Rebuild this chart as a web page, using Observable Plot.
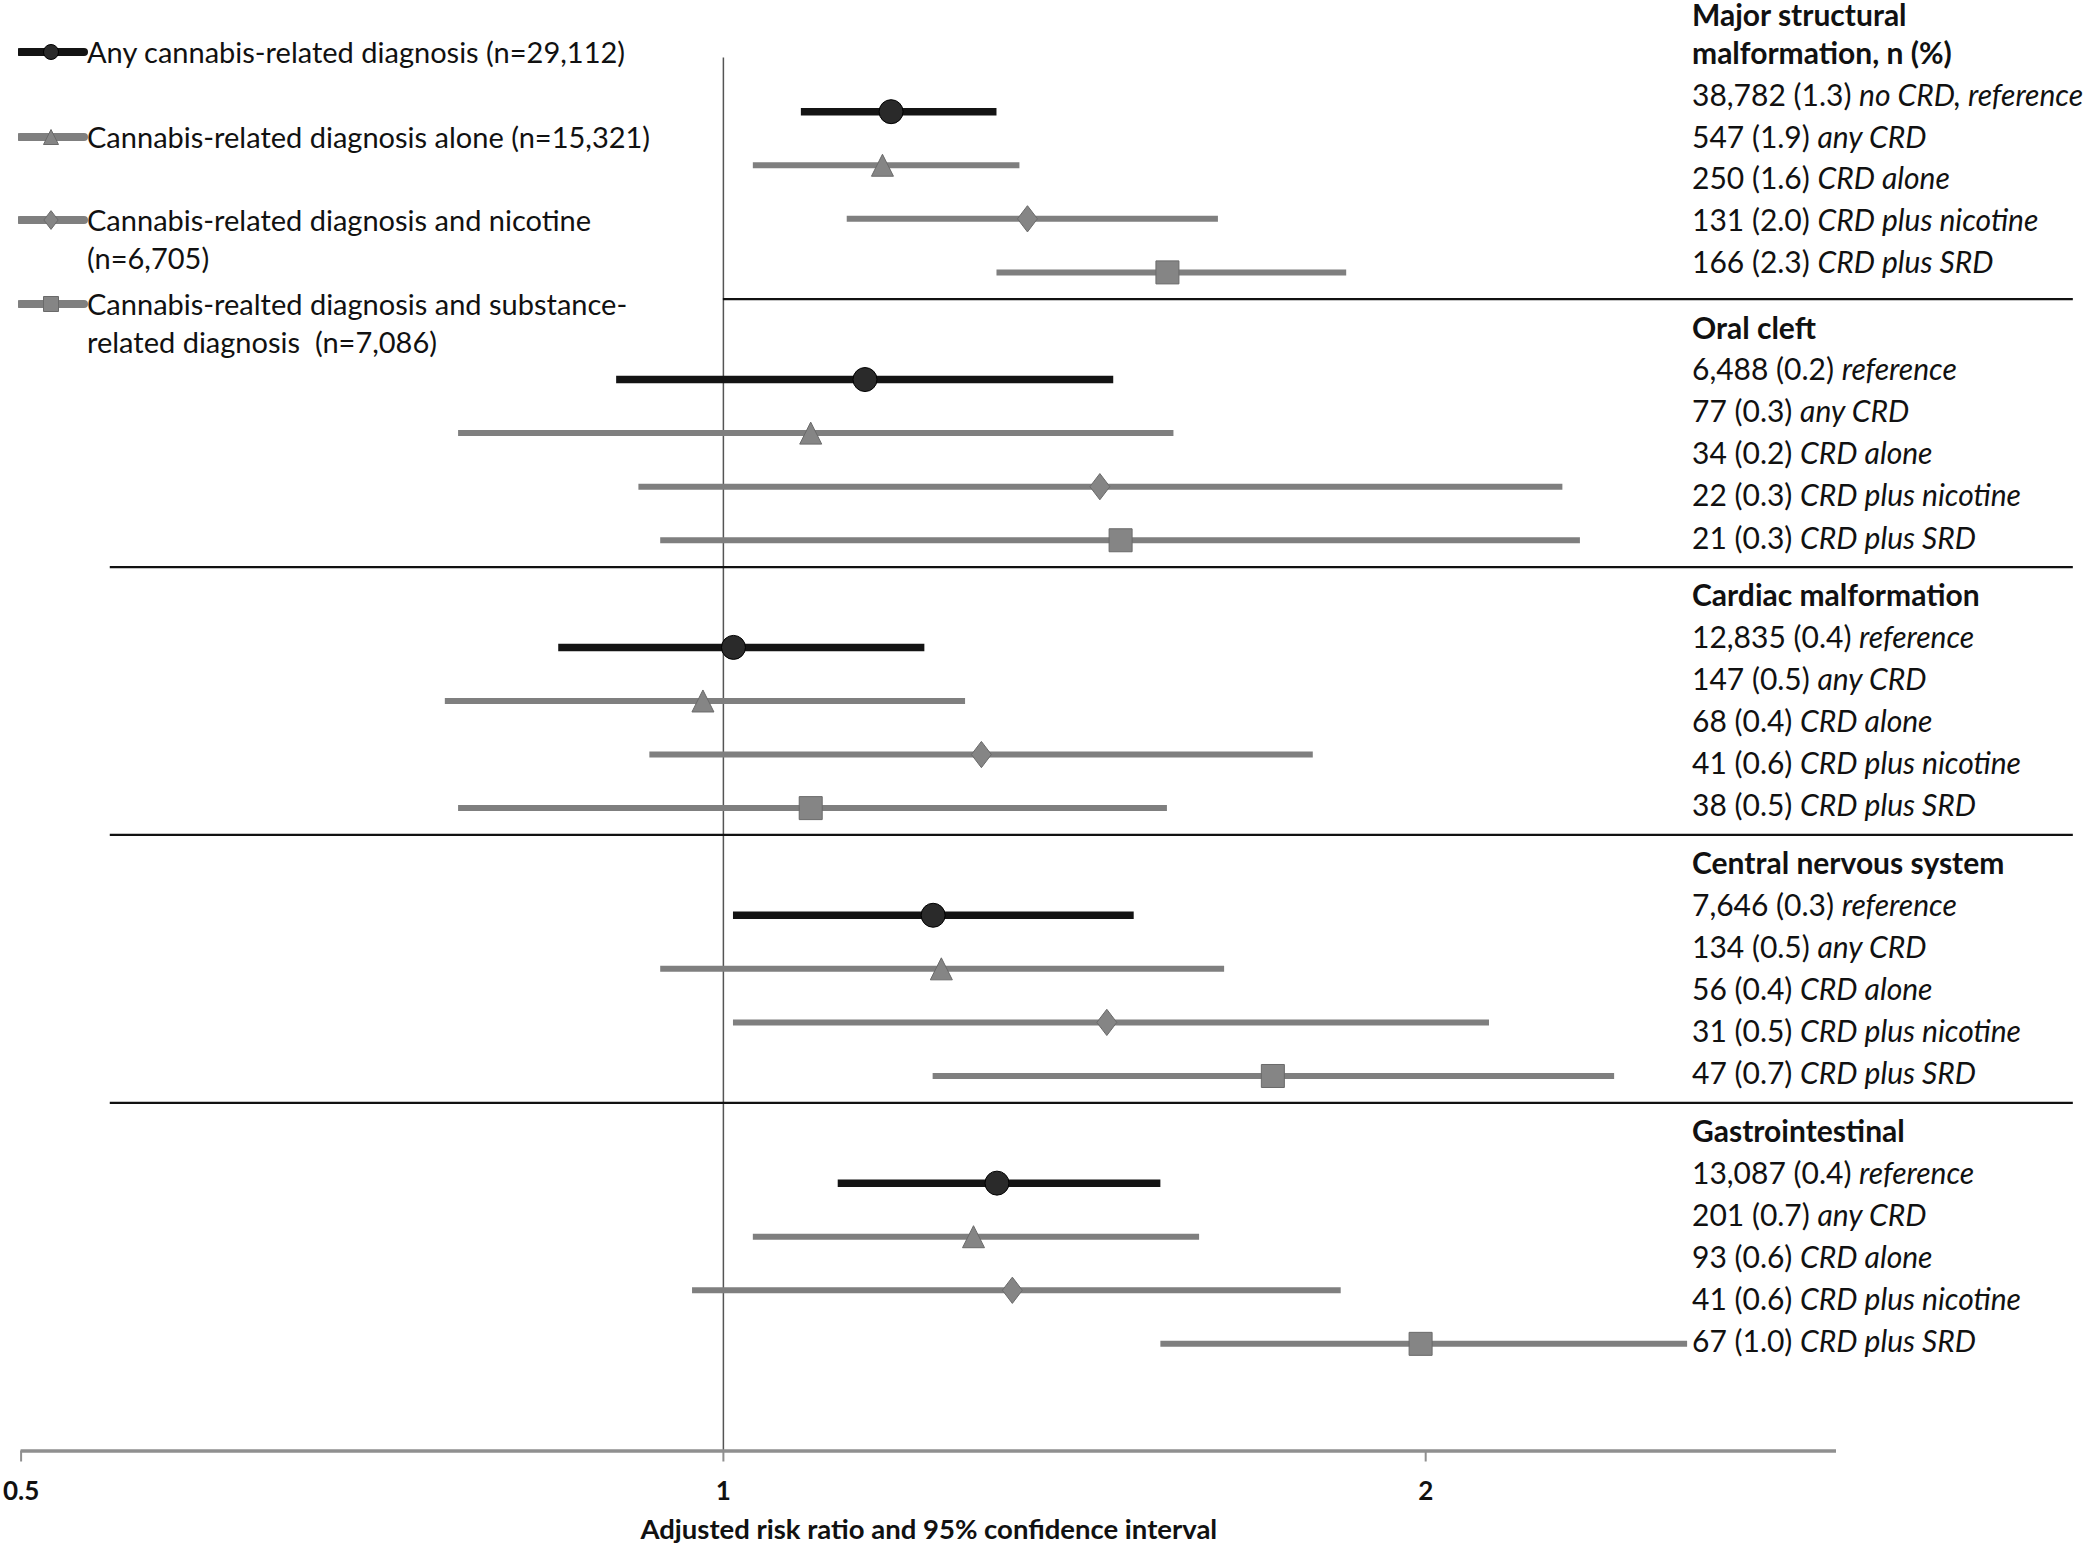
<!DOCTYPE html>
<html><head><meta charset="utf-8">
<script src="https://cdn.jsdelivr.net/npm/d3@7"></script>
<script src="https://cdn.jsdelivr.net/npm/@observablehq/plot@0.6"></script>
<style>
html,body{margin:0;padding:0;background:#fff;overflow:hidden;}
#wrap{position:relative;width:2100px;height:1551px;font-family:Lato,"Open Sans",sans-serif;color:#111;}
#wrap > svg{position:absolute;left:0;top:0;}
.rt{position:absolute;left:1692px;font-size:30px;white-space:nowrap;transform:translateY(-50%);line-height:1;}
.rt.h{font-weight:700;}
.lg{position:absolute;left:87px;font-size:29px;line-height:38px;white-space:nowrap;}
.sw{position:absolute;left:18px;}
</style></head><body><div id="wrap"></div>
<script>
// ---- data ----
const categories = ["Major structural malformation", "Oral cleft", "Cardiac malformation", "Central nervous system", "Gastrointestinal"];
const groupHeaders = [["Major structural", "malformation, n (%)"], ["Oral cleft"], ["Cardiac malformation"], ["Central nervous system"], ["Gastrointestinal"]];
const seriesNames = ["Any cannabis-related diagnosis (n=29,112)", "Cannabis-related diagnosis alone (n=15,321)", "Cannabis-related diagnosis and nicotine (n=6,705)", "Cannabis-realted diagnosis and substance-related diagnosis  (n=7,086)"];
const legendLines = [["Any cannabis-related diagnosis (n=29,112)"], ["Cannabis-related diagnosis alone (n=15,321)"], ["Cannabis-related diagnosis and nicotine", "(n=6,705)"], ["Cannabis-realted diagnosis and substance-", "related diagnosis\u00a0\u00a0(n=7,086)"]];
const riskRatio = [
  [1.18, 1.17, 1.35, 1.55],
  [1.15, 1.09, 1.45, 1.48],
  [1.01, 0.98, 1.29, 1.09],
  [1.23, 1.24, 1.46, 1.72],
  [1.31, 1.28, 1.33, 1.99]
];
const ciLower = [
  [1.08, 1.03, 1.13, 1.31],
  [0.90, 0.77, 0.92, 0.94],
  [0.85, 0.76, 0.93, 0.77],
  [1.01, 0.94, 1.01, 1.23],
  [1.12, 1.03, 0.97, 1.54]
];
const ciUpper = [
  [1.31, 1.34, 1.63, 1.85],
  [1.47, 1.56, 2.29, 2.33],
  [1.22, 1.27, 1.79, 1.55],
  [1.50, 1.64, 2.13, 2.41],
  [1.54, 1.60, 1.84, 2.59]
];
const counts = [
  ["38,782 (1.3)", "547 (1.9)", "250 (1.6)", "131 (2.0)", "166 (2.3)"],
  ["6,488 (0.2)", "77 (0.3)", "34 (0.2)", "22 (0.3)", "21 (0.3)"],
  ["12,835 (0.4)", "147 (0.5)", "68 (0.4)", "41 (0.6)", "38 (0.5)"],
  ["7,646 (0.3)", "134 (0.5)", "56 (0.4)", "31 (0.5)", "47 (0.7)"],
  ["13,087 (0.4)", "201 (0.7)", "93 (0.6)", "41 (0.6)", "67 (1.0)"]
];
const refLabels = ["no CRD, reference", "reference", "reference", "reference", "reference"];
const rowLabels = ["any CRD", "CRD alone", "CRD plus nicotine", "CRD plus SRD"];
const xTicks = [0.5, 1, 2];
const xTickLabels = ["0.5", "1", "2"];
const axisTitle = "Adjusted risk ratio and 95% confidence interval";

// ---- layout / style ----
const black = "#141414", gray = "#7f7f7f";
const sepStart = 0.546, sepEnd = 3.79;
const rad = s => Math.sqrt(s / Math.PI);
const circleSym = {draw(c, s){ const r = rad(s); c.moveTo(r, 0); c.arc(0, 0, r, 0, 2 * Math.PI); c.closePath(); }};
const triSym = {draw(c, s){ const r = rad(s); c.moveTo(0, -r); c.lineTo(r, r); c.lineTo(-r, r); c.closePath(); }};
const diaSym = {draw(c, s){ const r = rad(s); c.moveTo(0, -1.25 * r); c.lineTo(0.95 * r, 0); c.lineTo(0, 1.25 * r); c.lineTo(-0.95 * r, 0); c.closePath(); }};
const sqSym = {draw(c, s){ const r = rad(s); c.rect(-r, -r, 2 * r, 2 * r); }};
const symbols = [circleSym, triSym, diaSym, sqSym];
const symR = [12, 11, 10.5, 11.5];
const lineColor = [black, gray, gray, gray];
const lineW = [7.5, 6, 6, 6];
const dotFill = ["#2a2a2a", "#858585", "#858585", "#858585"];
const dotStroke = ["#000", "#6a6a6a", "#6a6a6a", "#6a6a6a"];

const rows = [];
categories.forEach((cat, gi) => seriesNames.forEach((s, si) => rows.push({
  category: cat, series: s, si, slot: gi * 5 + si,
  rr: riskRatio[gi][si], lo: ciLower[gi][si], hi: ciUpper[gi][si]
})));
const separators = categories.slice(0, -1).map((c, gi) => ({y: gi * 5 + 3.5, x1: gi === 0 ? 1 : sepStart, x2: sepEnd}));

const marks = [
  Plot.ruleX([1], {stroke: "#555", strokeWidth: 1.5}),
  Plot.ruleY(separators, {y: "y", x1: "x1", x2: "x2", stroke: "#111", strokeWidth: 2.2}),
  Plot.ruleY([25], {stroke: "#8f8f8f", strokeWidth: 3.5}),
  Plot.axisX({ticks: xTicks, tickFormat: d => xTickLabels[xTicks.indexOf(d)], tickSize: 11, tickPadding: 20,
    stroke: "#8f8f8f", strokeWidth: 2, fill: "#111", fontSize: 26, fontWeight: "bold", label: null}),
  Plot.text([axisTitle], {frameAnchor: "bottom", dy: 88, fontSize: 27.5, fontWeight: "bold", fill: "#111"})
];
seriesNames.forEach((s, si) => {
  const d = rows.filter(r => r.si === si);
  marks.push(Plot.ruleY(d, {y: "slot", x1: "lo", x2: "hi", stroke: lineColor[si], strokeWidth: lineW[si]}));
  marks.push(Plot.dot(d, {x: "rr", y: "slot", symbol: symbols[si], r: symR[si], fill: dotFill[si], stroke: dotStroke[si], strokeWidth: 1}));
});

const plot = Plot.plot({
  width: 2100, height: 1551,
  marginLeft: 20.6, marginRight: 264, marginTop: 57.6, marginBottom: 100.5,
  x: {type: "log", domain: [0.5, 3]},
  y: {domain: [-1, 25], reverse: true, axis: null},
  style: {fontFamily: "Lato, 'Open Sans', sans-serif", overflow: "visible"},
  marks
});
const wrap = document.getElementById("wrap");
wrap.appendChild(plot);
const yS = plot.scale("y");

// right-hand table
groupHeaders.forEach((hdr, gi) => {
  const base = gi * 5;
  const d0 = gi === 0 ? -0.325 : -0.2;
  const step = gi === 0 ? 0.78 : 0.785;
  const hLast = d0 - 0.78;
  hdr.forEach((line, li) => {
    const el = document.createElement("div");
    el.className = "rt h";
    el.textContent = line;
    el.style.top = yS.apply(base + hLast - 0.7 * (hdr.length - 1 - li)) + "px";
    wrap.appendChild(el);
  });
  counts[gi].forEach((c, i) => {
    const el = document.createElement("div");
    el.className = "rt";
    const lab = i === 0 ? refLabels[gi] : rowLabels[i - 1];
    el.innerHTML = c + " <i>" + lab + "</i>";
    el.style.top = yS.apply(base + d0 + step * i) + "px";
    wrap.appendChild(el);
  });
});

// legend
const legendCenters = [52, 137, 220, 304];
legendLines.forEach((lines, si) => {
  const el = document.createElement("div");
  el.className = "lg";
  el.style.top = (legendCenters[si] - 19) + "px";
  el.innerHTML = lines.join("<br>");
  wrap.appendChild(el);
  const p = d3.path();
  symbols[si].draw(p, Math.PI * 7.5 * 7.5);
  const sw = document.createElement("div");
  sw.className = "sw";
  sw.style.top = (legendCenters[si] - 12) + "px";
  sw.innerHTML = `<svg width="70" height="24"><line x1="2" x2="66" y1="12" y2="12" stroke="${lineColor[si]}" stroke-width="8" stroke-linecap="round"/><path d="${p.toString()}" transform="translate(33,12)" fill="${dotFill[si]}" stroke="${dotStroke[si]}"/></svg>`;
  wrap.appendChild(sw);
});
</script></body></html>
